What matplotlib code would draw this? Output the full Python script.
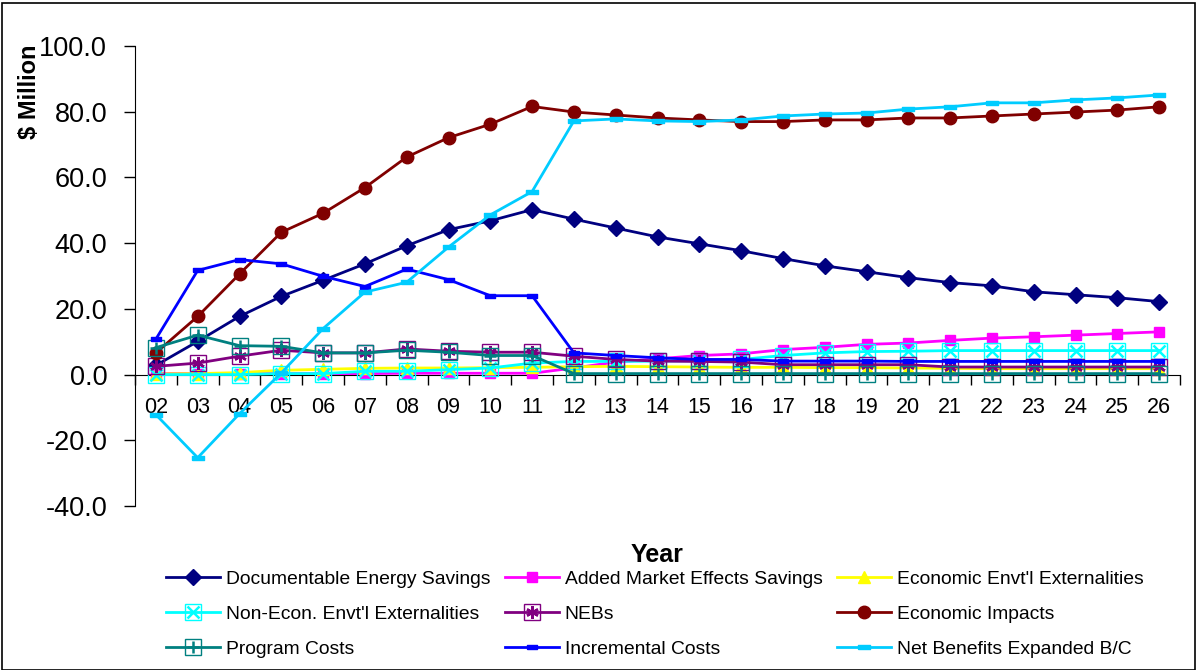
import numpy as np
import matplotlib
matplotlib.use("Agg")
import matplotlib.pyplot as plt
from matplotlib.patches import Rectangle

plt.rcParams['font.family'] = ['Liberation Sans', 'DejaVu Sans']

years = ['02', '03', '04', '05', '06', '07', '08', '09', '10', '11', '12', '13', '14',
         '15', '16', '17', '18', '19', '20', '21', '22', '23', '24', '25', '26']

doc_savings = [2.8, 10.1, 17.7, 23.8, 28.7, 33.7, 39.2, 44.1, 46.8, 50.2, 47.3, 44.6, 41.9,
               39.8, 37.7, 35.3, 33.1, 31.3, 29.5, 28.0, 27.0, 25.2, 24.3, 23.4, 22.2]
market_effects = [0.3, 0.3, 0.3, 0.3, 0.3, 0.3, 0.4, 0.4, 0.4, 0.4, 2.0, 3.8, 4.8,
                  5.8, 6.3, 7.6, 8.3, 9.2, 9.6, 10.4, 11.1, 11.5, 12.0, 12.5, 13.0]
econ_ext = [0.2, 0.3, 0.6, 1.3, 1.6, 1.9, 2.0, 2.0, 2.1, 2.2, 2.4, 2.5, 2.4,
            2.3, 2.2, 2.2, 2.1, 2.1, 2.0, 1.9, 1.8, 1.8, 1.8, 1.8, 1.8]
nonecon_ext = [0.0, 0.0, 0.0, 0.3, 0.3, 1.0, 1.0, 1.5, 2.0, 3.5, 4.0, 4.0, 4.1,
               4.2, 4.6, 5.8, 6.6, 7.0, 7.1, 7.3, 7.3, 7.3, 7.3, 7.3, 7.3]
nebs = [2.5, 3.5, 5.6, 7.4, 6.6, 6.6, 7.8, 7.1, 6.8, 6.8, 5.6, 4.6, 4.1,
        4.0, 3.8, 3.0, 3.0, 3.0, 3.0, 2.3, 2.3, 2.3, 2.3, 2.3, 2.3]
econ_impacts = [6.6, 17.7, 30.6, 43.3, 49.1, 56.9, 66.2, 72.1, 76.2, 81.6, 79.9, 79.0, 78.1,
                77.5, 77.0, 77.0, 77.5, 77.5, 78.1, 78.1, 78.7, 79.3, 79.9, 80.5, 81.5]
program_costs = [8.2, 12.0, 8.8, 8.6, 6.6, 6.6, 7.4, 6.8, 5.8, 5.8, 0.3, 0.3, 0.3,
                 0.3, 0.3, 0.3, 0.3, 0.3, 0.3, 0.3, 0.3, 0.3, 0.3, 0.3, 0.3]
incremental_costs = [10.8, 31.7, 35.0, 33.7, 29.9, 26.8, 32.1, 28.9, 24.0, 24.0, 6.6, 5.8, 5.1,
                     4.6, 4.6, 4.1, 4.1, 4.1, 4.0, 4.0, 4.0, 4.0, 4.0, 4.0, 4.0]
net_benefits = [-12.2, -25.3, -11.9, 0.5, 14.0, 25.1, 28.1, 38.8, 48.6, 55.7, 77.2, 77.8, 77.2,
                77.0, 77.5, 78.7, 79.3, 79.6, 80.8, 81.5, 82.7, 82.7, 83.6, 84.2, 85.1]

# flat bar marker used by the two cost/benefit lines
dash = [(-1, -0.38), (1, -0.38), (1, 0.38), (-1, 0.38), (-1, -0.38)]
asterisk = (6, 2, 0)

# label, values, colour, outer marker, inner marker (None = plain filled marker)
series = [
    ("Documentable Energy Savings", doc_savings, "#000080", dict(marker='D', ms=8), None),
    ("Added Market Effects Savings", market_effects, "#FF00FF", dict(marker='s', ms=7.5), None),
    ("Economic Envt'l Externalities", econ_ext, "#FFFF00", dict(marker='^', ms=8.5), None),
    ("Non-Econ. Envt'l Externalities", nonecon_ext, "#00FFFF", dict(marker='s', ms=11, mfc='none', mew=1.0), 'x'),
    ("NEBs", nebs, "#800080", dict(marker='s', ms=11, mfc='none', mew=1.0), asterisk),
    ("Economic Impacts", econ_impacts, "#800000", dict(marker='o', ms=9), None),
    ("Program Costs", program_costs, "#008080", dict(marker='s', ms=11, mfc='none', mew=1.0), '+'),
    ("Incremental Costs", incremental_costs, "#0000FF", dict(marker=dash, ms=6.5), None),
    ("Net Benefits Expanded B/C", net_benefits, "#00CCFF", dict(marker=dash, ms=8), None),
]

fig = plt.figure(figsize=(11.98, 6.70), dpi=100)
ax = fig.add_axes([135 / 1198, 1 - 506 / 670, 1045 / 1198, 460 / 670])

x = np.arange(len(years))
handles = []
for i, (label, vals, color, outer, inner) in enumerate(series):
    line, = ax.plot(x, vals, color=color, lw=2, mec=color, zorder=3 + i,
                    clip_on=False, **({'mfc': color} | outer))
    if inner is None:
        handles.append(line)
    else:
        mark, = ax.plot(x, vals, ls='none', marker=inner, ms=9, mec=color,
                        mew=1.8, zorder=3 + i, clip_on=False)
        handles.append((line, mark))

ax.set_xlim(-0.5, len(years) - 0.5)
ax.set_ylim(-40, 100)
yticks = np.arange(-40, 101, 20)
ax.set_yticks(yticks)
ax.set_yticklabels([f"{v:.1f}" for v in yticks])
ax.tick_params(axis='y', direction='out', length=8, width=1, pad=12, labelsize=19.5)

ax.set_xticks(x)
ax.set_xticklabels(years)
ax.set_xticks(np.arange(-0.5, len(years), 1), minor=True)
ax.tick_params(axis='x', which='major', length=0, pad=16, labelsize=15.5)
ax.tick_params(axis='x', which='minor', direction='out', length=7, width=1)

ax.spines['top'].set_visible(False)
ax.spines['right'].set_visible(False)
ax.spines['bottom'].set_position(('data', 0))
ax.spines['bottom'].set_zorder(2)

fig.text(30 / 1198, 1 - 92 / 670, "$ Million", rotation=90, fontsize=17,
         fontweight='bold', ha='center', va='center')
fig.text(657 / 1198, 1 - 555 / 670, "Year", fontsize=18, fontweight='bold',
         ha='center', va='center')

# legend entries read row by row
order = [0, 3, 6, 1, 4, 7, 2, 5, 8]
fig.legend([handles[k] for k in order], [series[k][0] for k in order],
           loc='upper left', bbox_to_anchor=(166 / 1198, 1 - 570 / 670),
           ncol=3, frameon=False, fontsize=13.9, handlelength=2.8,
           handletextpad=0.3, columnspacing=0.75, labelspacing=0.92,
           borderpad=0, borderaxespad=0, numpoints=1)

fig.add_artist(Rectangle((2 / 1198, 0), 1193 / 1198, 667 / 670, transform=fig.transFigure,
                         fill=False, ec='black', lw=1.2))

fig.savefig("out.png", dpi=100)
